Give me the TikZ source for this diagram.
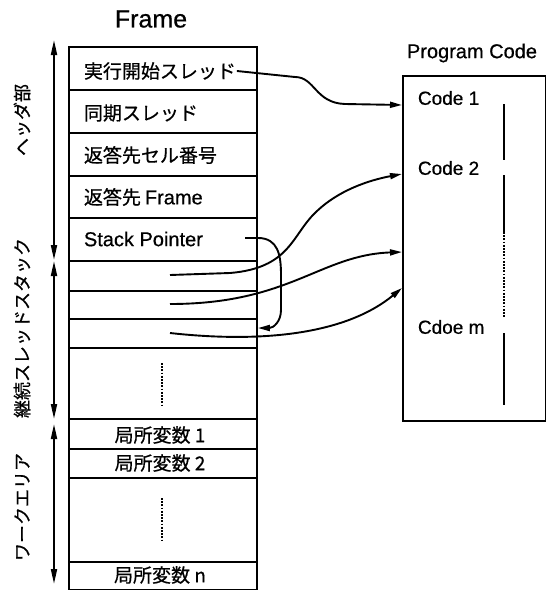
\documentclass[tikz,border=0pt]{standalone}
\usepackage{fontspec}
\setmainfont[FakeBold=0.6]{Liberation Sans}
\newfontfamily\jp[FakeBold=0.6]{Noto Sans CJK JP}
\usetikzlibrary{arrows.meta}
\begin{document}
\begin{tikzpicture}[x=1pt,y=-1pt,
  line width=1.9pt,
  rowbox/.style={draw,line width=1.9pt,minimum width=188pt,inner sep=0pt,anchor=north west},
  jtext/.style={font=\jp\fontsize{19}{22}\selectfont,inner sep=0pt},
  ltext/.style={font=\fontsize{20}{24}\selectfont,inner sep=0pt},
  side/.style={font=\jp\fontsize{18}{22}\selectfont,inner sep=0pt,rotate=90},
  conn/.style={line width=1.9pt,-{Triangle[length=12pt,width=6pt]}},
  dbl/.style={line width=1.9pt,{Triangle[length=15pt,width=6pt]}-{Triangle[length=15pt,width=6pt]}},
  dots/.style={line width=2pt,dash pattern=on 1.8pt off 1.4pt}]
\useasboundingbox (0,0) rectangle (546,590);
% title
\node[font=\fontsize{25}{28}\selectfont,inner sep=0pt] (ftitle) at (151,19) {Frame};
% frame rows
\node[rowbox,minimum height=43pt] (r1) at (68,46) {};
\node[rowbox,minimum height=43pt] (r2) at (68,89) {};
\node[rowbox,minimum height=43pt] (r3) at (68,132) {};
\node[rowbox,minimum height=42pt] (r4) at (68,175) {};
\node[rowbox,minimum height=43pt] (r5) at (68,217) {};
\node[rowbox,minimum height=30pt] (r6) at (68,260) {};
\node[rowbox,minimum height=28pt] (r7) at (68,290) {};
\node[rowbox,minimum height=29pt] (r8) at (68,318) {};
\node[rowbox,minimum height=71pt] (r9) at (68,347) {};
\node[rowbox,minimum height=30pt] (r10) at (68,418) {};
\node[rowbox,minimum height=29pt] (r11) at (68,448) {};
\node[rowbox,minimum height=84pt] (r12) at (68,477) {};
\node[rowbox,minimum height=28pt] (r13) at (68,561) {};
% row texts
\node[jtext,anchor=west] (t1) at (83,71) {実行開始スレッド};
\node[jtext,anchor=west] (t2) at (83,113) {同期スレッド};
\node[jtext,anchor=west] (t3) at (83,155) {返答先セル番号};
\node[anchor=west,inner sep=0pt] (t4) at (83,197) {{\jp\fontsize{19}{22}\selectfont 返答先}\hspace{4pt}{\fontsize{20}{24}\selectfont Frame}};
\node[ltext,anchor=west] (t5) at (83,239) {Stack Pointer};
\node[jtext] (t10) at (160,435) {局所変数 1};
\node[jtext] (t11) at (160,463) {局所変数 2};
\node[jtext] (t13) at (160,575) {局所変数 n};
% dotted lines in frame
\coordinate (d1a) at (162,363); \coordinate (d1b) at (162,405);
\coordinate (d2a) at (162,498); \coordinate (d2b) at (162,540);
\draw[dots] (d1a) -- (d1b);
\draw[dots] (d2a) -- (d2b);
% side arrows
\coordinate (a1t) at (54,40); \coordinate (a1b) at (54,260);
\coordinate (a2t) at (54,261); \coordinate (a2b) at (54,419);
\coordinate (a3t) at (54,424); \coordinate (a3b) at (54,584);
\draw[dbl] (a1t) -- (a1b);
\draw[dbl] (a2t) -- (a2b);
\draw[dbl] (a3t) -- (a3b);
\node[side] (s1) at (22,120) {ヘッダ部};
\node[side] (s2) at (22,328) {継続スレッドスタック};
\node[side] (s3) at (22,507) {ワークエリア};
% program code
\node[font=\fontsize{20}{24}\selectfont,inner sep=0pt] (ptitle) at (472,53) {Program Code};
\node[draw,line width=1.9pt,minimum width=143pt,minimum height=345pt,inner sep=0pt,anchor=north west] (pc) at (402,75) {};
\node[ltext,font=\fontsize{19}{23}\selectfont,anchor=west] (c1) at (417,98) {Code 1};
\node[ltext,font=\fontsize{19}{23}\selectfont,anchor=west] (c2) at (417,168) {Code 2};
\node[ltext,font=\fontsize{19}{23}\selectfont,anchor=west] (cm) at (417,327) {Cdoe m};
\coordinate (v1a) at (504,104); \coordinate (v1b) at (504,160);
\coordinate (v2a) at (504,175); \coordinate (v2b) at (504,232);
\coordinate (v3b) at (504,318);
\coordinate (v4a) at (504,333); \coordinate (v4b) at (504,405);
\draw[line width=2.2pt] (v1a) -- (v1b);
\draw[line width=2.2pt] (v2a) -- (v2b);
\draw[dots] (v2b) -- (v3b);
\draw[line width=2.2pt] (v4a) -- (v4b);
% connector end points
\coordinate (e1) at (pc.west |- 0,105);
\coordinate (e2) at (pc.west |- 0,174);
\coordinate (e3) at (pc.west |- 0,252);
\coordinate (e4) at (pc.west |- 0,288);
\coordinate (b6) at (170,275);
\coordinate (b7) at (170,304);
\coordinate (b8) at (170,333);
\coordinate (s5) at (245,238);
\coordinate (sp) at (r8.east |- 0,328);
% connectors
\draw[conn] (t1.east) -- (295,77) .. controls (315,77) and (315,103) .. (345,104) -- (e1);
\draw[conn] (b6) -- (230,273) .. controls (290,268) and (292,235) .. (315,213) .. controls (338,190) and (370,180) .. (e2);
\draw[conn] (b7) .. controls (290,304) and (320,255) .. (e3);
\draw[conn] (b8) .. controls (260,343) and (345,335) .. (e4);
\draw[conn] (s5) -- (258,238) .. controls (278,238) and (281,255) .. (281,275) -- (281,310) .. controls (281,322) and (273,328) .. (sp);
\end{tikzpicture}
\end{document}
